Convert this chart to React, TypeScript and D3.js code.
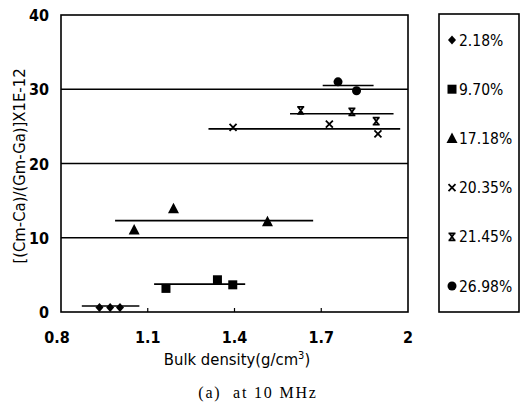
import React from "react";
import * as d3 from "d3";

const seriesNames = ["2.18%", "9.70%", "17.18%", "20.35%", "21.45%", "26.98%"];
const seriesShapes = ["diamond", "square", "triangle", "cross", "hourglass", "circle"];
const seriesX: number[][] = [
  [0.933, 0.97, 1.004],
  [1.163, 1.341, 1.394],
  [1.053, 1.189, 1.514],
  [1.395, 1.728, 1.896],
  [1.629, 1.806, 1.89],
  [1.758, 1.822],
];
const seriesY: number[][] = [
  [0.6, 0.6, 0.6],
  [3.18, 4.34, 3.66],
  [11.05, 13.92, 12.17],
  [24.87, 25.3, 24.0],
  [27.15, 26.94, 25.7],
  [31.0, 29.8],
];
const rangeLo = [0.872, 1.122, 0.987, 1.31, 1.592, 1.705];
const rangeHi = [1.071, 1.437, 1.672, 1.973, 1.95, 1.881];
const rangeMean = [0.8, 3.76, 12.3, 24.66, 26.7, 30.5];

const xTicks = [0.8, 1.1, 1.4, 1.7, 2];
const xTickLabels = ["0.8", "1.1", "1.4", "1.7", "2"];
const yTicks = [0, 10, 20, 30, 40];
const gridValues = [10, 20, 30];

const FONT = "'Liberation Sans Narrow', 'DejaVu Sans Condensed', 'Arial Narrow', sans-serif";

function Marker({ shape, x, y }: { shape: string; x: number; y: number }) {
  switch (shape) {
    case "diamond":
      return <path d="M0,-4.5L4,0L0,4.5L-4,0Z" transform={`translate(${x},${y})`} fill="#000" />;
    case "square":
      return <rect x={x - 4.5} y={y - 4.5} width={9} height={9} fill="#000" />;
    case "triangle":
      return <path d="M0,-6L5.5,4.5L-5.5,4.5Z" transform={`translate(${x},${y})`} fill="#000" />;
    case "cross":
      return (
        <path d="M-3.5,-3.5L3.5,3.5M3.5,-3.5L-3.5,3.5" transform={`translate(${x},${y})`} stroke="#000" strokeWidth={1.8} fill="none" />
      );
    case "hourglass":
      return (
        <path d="M-3.5,-3.5H3.5M-3.5,3.5H3.5M-2.5,-3.5L2.5,3.5M2.5,-3.5L-2.5,3.5" transform={`translate(${x},${y})`} stroke="#000" strokeWidth={1.8} fill="none" />
      );
    default:
      return <circle cx={x} cy={y} r={4.5} fill="#000" />;
  }
}

export default function App() {
  const left = 61, right = 408, top = 15, bottom = 312;
  const x = d3.scaleLinear().domain([0.8, 2]).range([left, right]);
  const y = d3.scaleLinear().domain([0, 40]).range([bottom, top]);
  const legendX = 439, legendY = 14, legendW = 80, legendH = 298;
  const legendStep = 49.2;

  return (
    <svg width={523} height={411} style={{ position: "absolute", left: 0, top: 0, background: "#fff" }}>
      <rect x={0} y={0} width={523} height={411} fill="#fff" />
      {/* gridlines */}
      {gridValues.map((g) => (
        <line key={g} x1={left} x2={right} y1={y(g)} y2={y(g)} stroke="#000" strokeWidth={1.5} />
      ))}
      {/* plot box */}
      <rect x={left} y={top} width={right - left} height={bottom - top} fill="none" stroke="#000" strokeWidth={1.6} />
      {/* bottom ticks */}
      {xTicks.slice(1, -1).map((t) => (
        <line key={t} x1={x(t)} x2={x(t)} y1={bottom} y2={bottom - 4} stroke="#000" strokeWidth={1.2} />
      ))}
      {/* x tick labels */}
      {xTicks.map((t, i) => (
        <text key={t} x={x(t) - (i === 0 ? 4 : 0)} y={343} textAnchor="middle" fontFamily={FONT} fontWeight="bold" fontSize={16}>
          {xTickLabels[i]}
        </text>
      ))}
      {/* y tick labels */}
      {yTicks.map((t) => (
        <text key={t} x={49} y={y(t) + 6} textAnchor="end" fontFamily={FONT} fontWeight="bold" fontSize={16}>
          {t}
        </text>
      ))}
      {/* axis titles */}
      <text transform={`translate(25,166) rotate(-90)`} textAnchor="middle" fontFamily={FONT} fontSize={16.5}>
        [(Cm-Ca)/(Gm-Ga)]X1E-12
      </text>
      <text x={237} y={365} textAnchor="middle" fontFamily={FONT} fontSize={16.5}>
        Bulk density(g/cm<tspan dy={-6} fontSize={11}>3</tspan>
        <tspan dy={6}>)</tspan>
      </text>
      <text x={258} y={398} textAnchor="middle" fontFamily="'Liberation Serif', 'DejaVu Serif', serif" fontSize={16} letterSpacing={1.8} style={{ whiteSpace: "pre" }}>
        {"(a)  at 10 MHz"}
      </text>
      {/* range lines */}
      {seriesNames.map((s, i) => (
        <line key={s} x1={x(rangeLo[i])} x2={x(rangeHi[i])} y1={y(rangeMean[i])} y2={y(rangeMean[i])} stroke="#000" strokeWidth={1.6} />
      ))}
      {/* markers */}
      {seriesNames.map((s, i) =>
        seriesX[i].map((v, j) => <Marker key={`${s}-${j}`} shape={seriesShapes[i]} x={x(v)} y={y(seriesY[i][j])} />)
      )}
      {/* legend */}
      <rect x={legendX} y={legendY} width={legendW} height={legendH} fill="none" stroke="#000" strokeWidth={1.6} />
      {seriesNames.map((s, i) => {
        const cy = legendY + 26 + i * legendStep;
        return (
          <g key={s}>
            <Marker shape={seriesShapes[i]} x={452} y={cy} />
            <text x={459} y={cy + 5.5} fontFamily={FONT} fontSize={15.5}>
              {s}
            </text>
          </g>
        );
      })}
    </svg>
  );
}
